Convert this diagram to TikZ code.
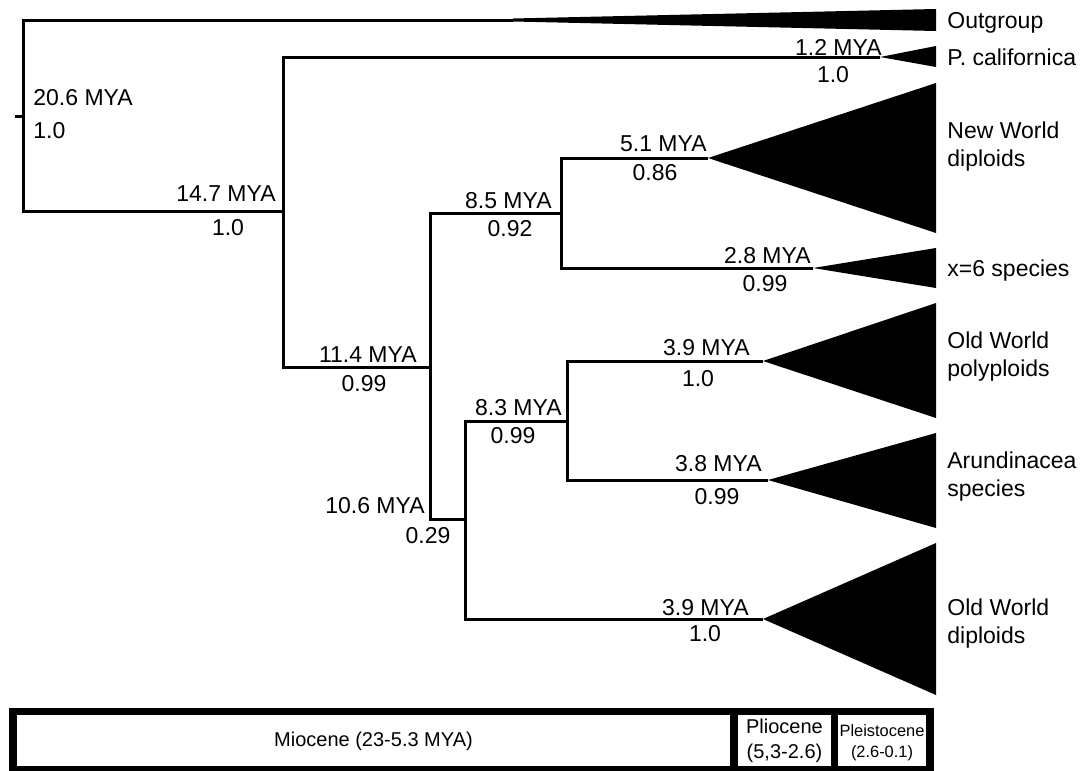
\documentclass[tikz,border=0pt]{standalone}
\usepackage{fontspec}
\setmainfont{Liberation Sans}
\usetikzlibrary{positioning}

\newcommand\treefont{\fontsize{11.5}{14}\selectfont}
\newcommand\epochfont{\fontsize{10}{12.5}\selectfont}
\newcommand\smallepochfont{\fontsize{8.2}{10.5}\selectfont}

\begin{document}
\begin{tikzpicture}[
    x=0.5pt, y=-0.5pt,
    branch/.style={line width=1.5pt},
    clade/.style={fill=black},
    age/.style={font=\treefont, inner sep=0pt, anchor=base east},
    pp/.style={font=\treefont, inner sep=0pt, anchor=base},
    taxon/.style={font=\treefont, inner sep=0pt, anchor=base west, align=left},
]
    \useasboundingbox (0,0) rectangle (1084,771);

    % internal nodes
    \coordinate (stub) at (15,116);
    \coordinate (n206) at (23,116);
    \coordinate (n147) at (283,211);
    \coordinate (n114) at (430,367);
    \coordinate (n85)  at (561,213);
    \coordinate (n106) at (465,519);
    \coordinate (n83)  at (567,421);

    % clade start points
    \coordinate (outS)  at (513,20);
    \coordinate (pcalS) at (880,57);
    \coordinate (nwdS)  at (708,158);
    \coordinate (x6S)   at (813,268);
    \coordinate (owpS)  at (763,361);
    \coordinate (aruS)  at (768,480);
    \coordinate (owdS)  at (763,619);

    % collapsed clades
    \fill[clade] (513,18.5) -- (936,9) -- (936,31) -- (513,21.5) -- cycle;
    \fill[clade] (pcalS) -- (936,46) -- (936,67) -- cycle;
    \fill[clade] (nwdS) -- (936,83) -- (936,233) -- cycle;
    \fill[clade] (x6S) -- (936,248) -- (936,288) -- cycle;
    \fill[clade] (owpS) -- (936,303) -- (936,418) -- cycle;
    \fill[clade] (aruS) -- (936,433) -- (936,528) -- cycle;
    \fill[clade] (owdS) -- (936,543) -- (936,695) -- cycle;

    % branches
    \draw[branch] (stub) -- (n206);
    \draw[branch] (outS) -| (n206) |- (n147);
    \draw[branch] (pcalS) -| (n147) |- (n114);
    \draw[branch] (n85) -| (n114) |- (n106);
    \draw[branch] (nwdS) -| (n85) |- (x6S);
    \draw[branch] (n83) -| (n106) |- (owdS);
    \draw[branch] (owpS) -| (n83) |- (aruS);

    % ages and support
    \node[age, anchor=base west] (a206) at (33,105) {20.6 MYA};
    \node[pp, anchor=base west] (p206) at (33,138) {1.0};
    \node[age] (a147) at (276,201) {14.7 MYA};
    \node[pp] (p147) at (228,235) {1.0};
    \node[age] (a12) at (882,55) {1.2 MYA};
    \node[pp] (p12) at (833,83) {1.0};
    \node[age] (a114) at (417,362) {11.4 MYA};
    \node[pp] (p114) at (364,391) {0.99};
    \node[age] (a85) at (552,208) {8.5 MYA};
    \node[pp] (p85) at (510,236) {0.92};
    \node[age] (a51) at (707,151) {5.1 MYA};
    \node[pp] (p51) at (655,180) {0.86};
    \node[age] (a28) at (811,263) {2.8 MYA};
    \node[pp] (p28) at (765,291) {0.99};
    \node[age] (a106) at (425,513) {10.6 MYA};
    \node[pp] (p106) at (428,543) {0.29};
    \node[age] (a83) at (562,415) {8.3 MYA};
    \node[pp] (p83) at (513,443) {0.99};
    \node[age] (a39a) at (750,355) {3.9 MYA};
    \node[pp] (p39a) at (698,386) {1.0};
    \node[age] (a38) at (762,471) {3.8 MYA};
    \node[pp] (p38) at (717,504) {0.99};
    \node[age] (a39b) at (749,615) {3.9 MYA};
    \node[pp] (p39b) at (705,641) {1.0};

    % taxa
    \node[taxon] (tout) at (947,28) {Outgroup};
    \node[taxon] (tpcal) at (947,65) {P. californica};
    \node[taxon] (tnwd) at (947,166) {New World\\diploids};
    \node[taxon] (tx6) at (947,276) {x=6 species};
    \node[taxon] (towp) at (947,376) {Old World\\polyploids};
    \node[taxon] (taru) at (947,496) {Arundinacea\\species};
    \node[taxon] (towd) at (947,643) {Old World\\diploids};

    % time scale
    \fill[black] (9,708) rectangle (934,772);
    \fill[white] (17,715) rectangle (730,766);
    \fill[white] (738,715) rectangle (831,766);
    \fill[white] (838,715) rectangle (926,766);
    \node[font=\epochfont, inner sep=0pt] (mio) at (373.5,741) {Miocene (23-5.3 MYA)};
    \node[font=\epochfont, inner sep=0pt, align=center] (plio) at (784.5,741) {Pliocene\\(5,3-2.6)};
    \node[font=\smallepochfont, inner sep=0pt, align=center] (pleis) at (882,743) {Pleistocene\\(2.6-0.1)};
\end{tikzpicture}
\end{document}
